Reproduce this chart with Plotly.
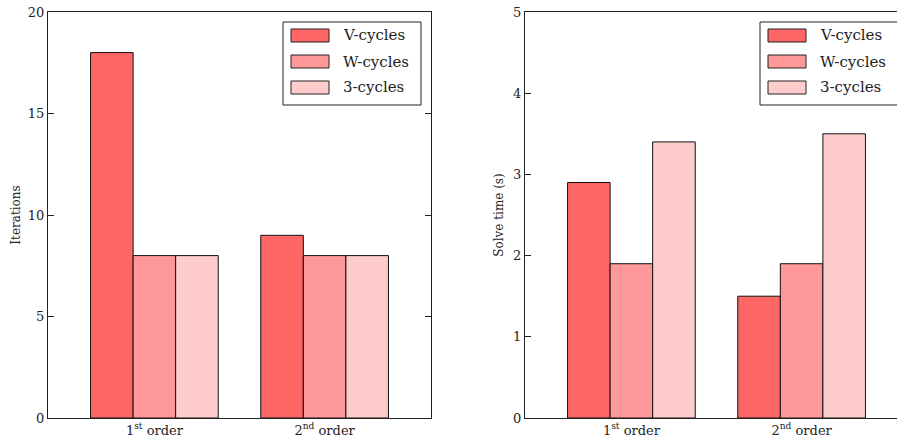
import plotly.graph_objects as go

# ---- data ----
categories = ["1<sup>st</sup> order", "2<sup>nd</sup> order"]
series_names = ["V-cycles", "W-cycles", "3-cycles"]
iterations_v = [18, 9]
iterations_w = [8, 8]
iterations_3 = [8, 8]
solve_v = [2.9, 1.5]
solve_w = [1.9, 1.9]
solve_3 = [3.4, 3.5]
iter_ticks = [0, 5, 10, 15, 20]
solve_ticks = [0, 1, 2, 3, 4, 5]

colors = ["#ff6666", "#ff9999", "#ffcccc"]

W, H = 897, 438
FONT = "DejaVu Serif, Liberation Serif, serif"
TXT = "#222222"


def px(x):
    return x / W


def py(y):
    return 1 - y / H


fig = go.Figure()

left_vals = [iterations_v, iterations_w, iterations_3]
right_vals = [solve_v, solve_w, solve_3]
idx = list(range(len(categories)))

for name, vals, c in zip(series_names, left_vals, colors):
    fig.add_trace(go.Bar(x=idx, y=vals, name=name, marker=dict(color=c, line=dict(color="#111", width=1)),
                         xaxis="x", yaxis="y", showlegend=False))
for name, vals, c in zip(series_names, right_vals, colors):
    fig.add_trace(go.Bar(x=idx, y=vals, name=name, marker=dict(color=c, line=dict(color="#111", width=1)),
                         xaxis="x2", yaxis="y2", showlegend=False))

# plot areas (pixels)
L0, L1 = 48, 431
R0, R1 = 525, 897
T, B = 12, 418
unit = (L1 - L0) / 2.25
xr_left = [-0.625, 1.625]
xr_right = [-0.625, -0.625 + (R1 - R0) / unit]

axcommon = dict(showgrid=False, zeroline=False, showline=True, linecolor="#222", linewidth=1,
                tickfont=dict(family=FONT, size=13, color=TXT))

fig.update_layout(
    width=W, height=H, margin=dict(l=0, r=0, t=0, b=0),
    paper_bgcolor="white", plot_bgcolor="white",
    barmode="group", bargap=0.25, bargroupgap=0,
    font=dict(family=FONT, color=TXT),
    xaxis=dict(domain=[px(L0), px(L1)], range=xr_left, tickvals=idx, ticktext=categories,
               ticks="", mirror=True, anchor="y", **axcommon),
    yaxis=dict(domain=[py(B), py(T)], range=[0, 20], tickvals=iter_ticks, ticks="inside", ticklen=6,
               tickcolor="#222", mirror="ticks", anchor="x",
               title=dict(text="Iterations", font=dict(family=FONT, size=12, color=TXT), standoff=4),
               **axcommon),
    xaxis2=dict(domain=[px(R0), px(R1)], range=xr_right, tickvals=idx, ticktext=categories,
                ticks="", mirror=True, anchor="y2", **axcommon),
    yaxis2=dict(domain=[py(B), py(T)], range=[0, 5], tickvals=solve_ticks, ticks="inside", ticklen=6,
                tickcolor="#222", mirror=False, anchor="x2",
                title=dict(text="Solve time (s)", font=dict(family=FONT, size=12, color=TXT), standoff=6),
                **axcommon),
)
fig.update_xaxes(automargin=False)
fig.update_yaxes(automargin=False)

# ---- legends (drawn per panel) ----
shapes = []
annotations = []
for off in (0, R0 - L0):
    bx0, bx1, by0, by1 = 283 + off, 421 + off, 22, 105
    shapes.append(dict(type="rect", xref="paper", yref="paper", x0=px(bx0), x1=px(bx1), y0=py(by1), y1=py(by0),
                       line=dict(color="#222", width=1), fillcolor="white", layer="above"))
    for i, (name, c) in enumerate(zip(series_names, colors)):
        yc = 35.5 + 26 * i
        shapes.append(dict(type="rect", xref="paper", yref="paper", x0=px(291 + off), x1=px(329 + off),
                           y0=py(yc + 6.5), y1=py(yc - 6.5), line=dict(color="#222", width=1),
                           fillcolor=c, layer="above"))
        annotations.append(dict(xref="paper", yref="paper", x=px(341 + off), y=py(yc), text=name,
                                showarrow=False, xanchor="left", yanchor="middle",
                                font=dict(family=FONT, size=15, color=TXT)))
fig.update_layout(shapes=shapes, annotations=annotations)

fig.write_html("out.html", config={"displayModeBar": False},
               post_script="document.body.style.margin='0';document.body.style.overflow='hidden';")
